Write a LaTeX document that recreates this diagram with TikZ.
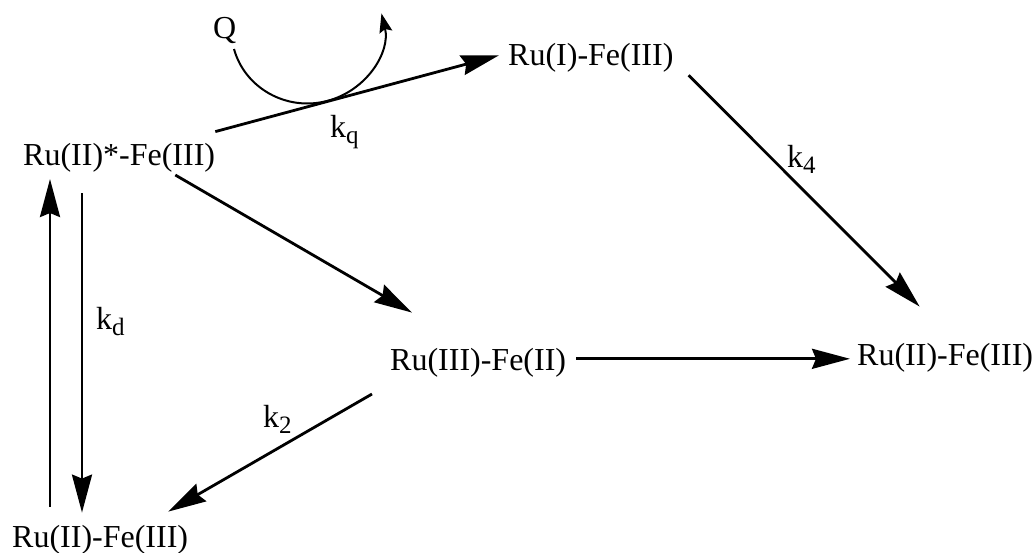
\documentclass[tikz,border=0pt]{standalone}
\usepackage{fontspec}
\setmainfont{Liberation Serif}
\usetikzlibrary{arrows.meta,calc}
\newcommand{\ksub}[1]{k\raisebox{-6pt}{\fontsize{25}{30}\selectfont #1}}

\begin{document}
\begin{tikzpicture}[x=1pt,y=1pt,
  sp/.style={inner sep=0pt,anchor=base west,font=\fontsize{32}{38}\selectfont},
  lbl/.style={inner sep=0pt,anchor=base west,font=\fontsize{32}{38}\selectfont},
  rx/.style={-{Stealth[length=38pt,width=20pt,inset=4pt]},line width=2.8pt},
  qx/.style={-{Stealth[length=19pt,width=13pt,inset=3pt]},line width=2pt}]
\useasboundingbox (0,0) rectangle (1034,-552);
% species
\node[sp] (star) at (23,-165) {Ru(II)*-Fe(III)};
\node[sp] (ruI) at (508,-65) {Ru(I)-Fe(III)};
\node[sp] (ruIII) at (390,-370) {Ru(III)-Fe(II)};
\node[sp] (ruIIr) at (857,-365) {Ru(II)-Fe(III)};
\node[sp] (ruIIg) at (12,-547) {Ru(II)-Fe(III)};
% quencher
\node[lbl] (q) at (213,-38) {Q};
\coordinate (qin) at (234,-49);
% rate constants
\node[lbl] (kq) at (330,-137) {\ksub{q}};
\node[lbl] (k4) at (787,-167) {\ksub{4}};
\node[lbl] (kd) at (96,-329) {\ksub{d}};
\node[lbl] (k2) at (263,-427) {\ksub{2}};
% arrows
\draw[rx] ([shift={(0,11)}]star.north east) -- ([shift={(-9,2)}]ruI.west);
\draw[qx] (qin) arc[start angle=195,end angle=373,x radius=76,y radius=73.5];
\draw[rx] ([shift={(-40,-3)}]star.south east) -- ([shift={(22,35)}]ruIII.north west);
\draw[rx] ([shift={(15,-18)}]ruI.east) -- ([shift={(-25.5,36)}]ruIIr.north);
\draw[rx] ([shift={(10,3.5)}]ruIII.east) -- ([shift={(-7,-1.5)}]ruIIr.west);
\draw[rx] ([shift={(-18,-17)}]ruIII.south west) -- ([shift={(-20,13)}]ruIIg.north east);
\draw[rx] ([shift={(38,18)}]ruIIg.north west) -- ([shift={(27,-7)}]star.south west);
\draw[rx] ([shift={(59,-21)}]star.south west) -- ([shift={(70,12)}]ruIIg.north west);
\end{tikzpicture}
\end{document}
